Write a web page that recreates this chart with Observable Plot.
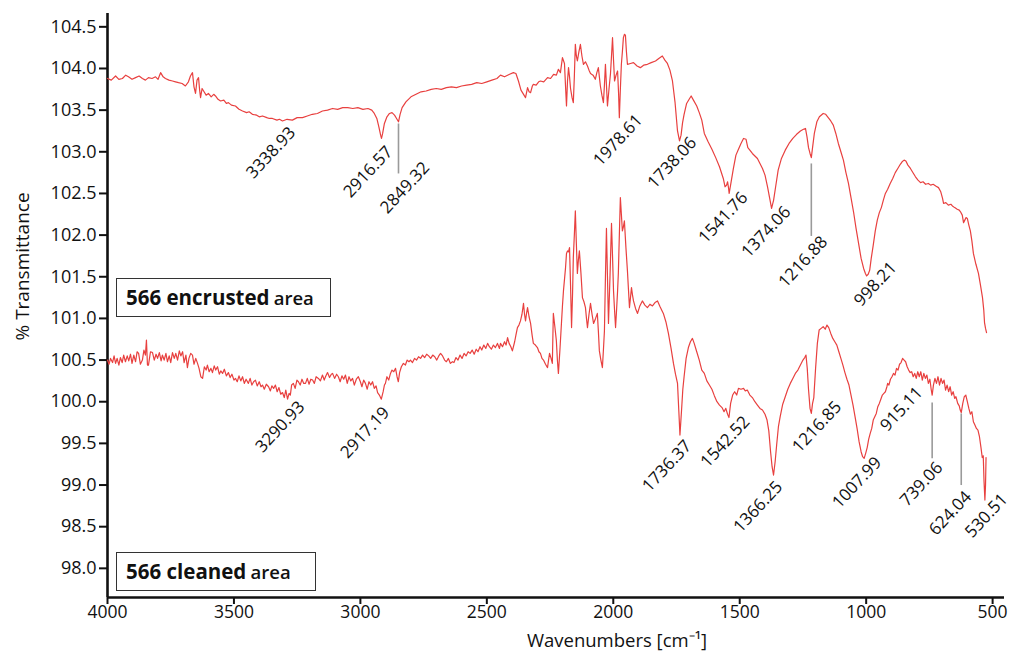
<!DOCTYPE html>
<html>
<head>
<meta charset="utf-8">
<script src="https://cdn.jsdelivr.net/npm/d3@7"></script>
<script src="https://cdn.jsdelivr.net/npm/@observablehq/plot@0.6"></script>
<style>
  html, body { margin: 0; padding: 0; background: #fff; }
  #wrap { position: relative; width: 1012px; height: 654px; font-family: "Open Sans", sans-serif; }
  .box { position: absolute; border: 1.3px solid #333; background: #fff; box-sizing: border-box;
         font-family: "Open Sans", sans-serif; color: #111; padding-left: 9px; line-height: 36px; white-space: nowrap; }
  .box b { font-weight: 700; font-size: 20.5px; }
  .box span { font-weight: 600; font-size: 18.5px; }
</style>
</head>
<body>
<div id="wrap"></div>
<script>
// ---------- data ----------
const xDomain = [4000, 453];
const yDomain = [97.65, 104.66];
const xTicks = [4000, 3500, 3000, 2500, 2000, 1500, 1000, 500];
const yTicks = [98.0, 98.5, 99.0, 99.5, 100.0, 100.5, 101.0, 101.5, 102.0, 102.5, 103.0, 103.5, 104.0, 104.5];

// 566 encrusted area (upper spectrum)
const topWave = [4000,3985,3968,3955,3941,3928,3917,3903,3889,3875,3862,3850,3838,3824,3810,3800,3790,3780,3771,3757,3743,3731,3719,3705,3692,3680,3672,3664,3658,3652,3646,3640,3636,3632,3626,3620,3610,3601,3590,3580,3573,3563,3553,3540,3530,3522,3510,3494,3480,3466,3450,3440,3427,3410,3400,3387,3370,3360,3348,3330,3320,3308,3290,3269,3250,3229,3210,3190,3170,3150,3130,3110,3090,3070,3050,3030,3010,2990,2970,2955,2945,2935,2927,2920,2916.57,2912,2905,2895,2885,2875,2865,2857,2849.32,2843,2835,2820,2800,2780,2760,2740,2720,2700,2680,2660,2640,2620,2600,2580,2560,2540,2520,2500,2480,2460,2446,2430,2410,2395,2385,2375,2365,2359,2353,2347,2339,2333,2327,2320,2316,2305,2295,2288,2275,2260,2248,2236,2225,2217,2209,2201,2193,2189,2185,2181,2177,2173,2169,2163,2158,2154,2150,2146,2142,2136,2130,2124,2118,2110,2102,2096,2090,2080,2071,2065,2059,2055,2051,2045,2039,2035,2031,2027,2023,2017,2011,2007,2003,1999,1995,1989,1983,1979,1976,1972,1968,1964,1960,1956,1952,1948,1944,1932,1920,1906,1893,1880,1865,1850,1833,1820,1806,1796,1786,1776,1766,1756,1746,1738.06,1732,1726,1720,1710,1700,1692,1683,1670,1660,1650,1640,1625,1610,1595,1580,1565,1558,1552,1548,1544,1541.76,1535,1525,1515,1505,1495,1485,1475,1468,1460,1450,1440,1430,1420,1410,1400,1390,1382,1374.06,1366,1358,1348,1335,1320,1305,1290,1275,1260,1248,1240,1234,1228,1222,1216.88,1212,1205,1195,1185,1170,1160,1150,1140,1130,1120,1110,1100,1090,1080,1070,1060,1050,1040,1030,1020,1010,1003,998.21,992,986,980,972,964,956,948,940,932,924,915,905,895,885,875,865,858,850,843,835,825,813,805,795,785,775,765,754,745,735,725,714,705,698,694,685,675,665,659,650,640,632,627,620,615,610,605,600,594,588,582,576,566,556,548,540,535,532,528,524];
const topT = [103.88,103.86,103.91,103.87,103.88,103.92,103.90,103.87,103.89,103.91,103.88,103.86,103.89,103.88,103.90,103.87,103.95,103.90,103.88,103.86,103.85,103.84,103.83,103.82,103.79,103.84,103.91,103.95,103.78,103.70,103.86,103.89,103.75,103.65,103.76,103.73,103.68,103.70,103.66,103.69,103.67,103.63,103.61,103.62,103.58,103.59,103.56,103.55,103.51,103.49,103.47,103.48,103.45,103.44,103.42,103.43,103.41,103.40,103.40,103.38,103.39,103.37,103.39,103.38,103.41,103.41,103.43,103.45,103.46,103.49,103.50,103.52,103.51,103.53,103.53,103.52,103.53,103.51,103.52,103.50,103.46,103.40,103.30,103.20,103.16,103.22,103.34,103.42,103.46,103.47,103.44,103.40,103.36,103.45,103.53,103.60,103.66,103.69,103.72,103.73,103.75,103.76,103.75,103.77,103.78,103.77,103.79,103.80,103.81,103.83,103.82,103.84,103.86,103.88,103.92,103.90,103.93,103.95,103.94,103.85,103.74,103.71,103.68,103.65,103.77,103.72,103.71,103.79,103.81,103.80,103.84,103.85,103.84,103.89,103.88,103.93,103.92,103.99,103.95,104.13,104.06,103.80,103.55,103.85,104.01,103.90,103.76,103.65,103.59,103.90,104.29,104.15,104.09,104.20,104.29,104.15,104.05,104.08,104.03,103.98,103.94,103.92,103.87,103.95,104.01,103.90,103.79,103.68,103.59,103.80,104.05,103.80,103.55,103.75,103.94,104.15,104.37,104.10,103.85,103.92,103.97,103.70,103.41,103.75,104.05,104.20,104.37,104.41,104.40,104.20,104.05,104.06,104.07,104.03,104.01,104.04,104.05,104.07,104.09,104.12,104.15,104.10,104.06,103.98,103.85,103.60,103.25,103.13,103.20,103.35,103.45,103.58,103.63,103.67,103.62,103.55,103.47,103.38,103.22,103.12,103.03,102.93,102.82,102.68,102.58,102.60,102.64,102.56,102.50,102.62,102.80,102.96,103.03,103.10,103.16,103.15,103.05,103.02,102.98,102.95,102.92,102.86,102.80,102.72,102.58,102.45,102.32,102.42,102.58,102.78,102.92,103.02,103.10,103.16,103.21,103.25,103.27,103.28,103.18,103.05,102.98,102.93,103.05,103.22,103.36,103.42,103.46,103.45,103.41,103.37,103.32,103.22,103.10,103.00,102.90,102.75,102.62,102.45,102.28,102.08,101.90,101.72,101.60,101.54,101.51,101.53,101.58,101.72,101.88,102.05,102.18,102.27,102.33,102.42,102.50,102.55,102.62,102.68,102.75,102.80,102.85,102.88,102.90,102.89,102.84,102.80,102.74,102.70,102.66,102.63,102.64,102.61,102.62,102.60,102.61,102.59,102.57,102.52,102.44,102.38,102.39,102.36,102.37,102.35,102.33,102.31,102.30,102.28,102.24,102.15,102.18,102.21,102.20,102.12,102.05,101.93,101.78,101.65,101.54,101.40,101.25,101.10,100.95,100.88,100.83];

// 566 cleaned area (lower spectrum)
const botWave = [4000,3994,3988,3980,3974,3968,3962,3955,3949,3942,3936,3929,3922,3916,3909,3903,3896,3889,3883,3877,3870,3862,3856,3850,3846,3842,3838,3830,3822,3815,3808,3802,3795,3788,3783,3776,3769,3763,3756,3750,3743,3736,3730,3723,3716,3710,3703,3697,3690,3684,3678,3671,3664,3658,3651,3644,3638,3631,3624,3617,3610,3605,3598,3591,3585,3578,3572,3565,3558,3552,3545,3538,3530,3522,3515,3508,3500,3494,3487,3480,3473,3466,3459,3452,3443,3436,3429,3422,3415,3408,3400,3393,3387,3380,3372,3363,3356,3350,3343,3336,3329,3322,3315,3308,3301,3295,3288,3282,3277,3272,3265,3258,3251,3245,3238,3231,3224,3217,3210,3203,3196,3189,3182,3175,3166,3158,3150,3143,3138,3130,3122,3115,3110,3102,3094,3087,3080,3073,3066,3059,3052,3045,3038,3031,3024,3016,3008,3000,2994,2987,2980,2973,2966,2959,2952,2945,2938,2932,2925,2917.19,2910,2905,2901,2895,2888,2881,2875,2868,2861,2855,2850,2845,2838,2830,2822,2815,2808,2802,2794,2786,2778,2770,2762,2754,2746,2738,2730,2722,2714,2706,2698,2690,2683,2675,2667,2660,2652,2644,2636,2630,2622,2614,2606,2598,2590,2582,2574,2566,2558,2550,2542,2535,2527,2520,2512,2504,2497,2490,2482,2474,2466,2458,2450,2446,2438,2430,2424,2418,2412,2405,2399,2390,2385,2379,2373,2367,2361,2355,2351,2347,2343,2339,2333,2327,2321,2316,2308,2300,2294,2288,2282,2276,2268,2260,2256,2252,2246,2241,2237,2231,2225,2221,2217,2211,2205,2201,2197,2189,2185,2181,2177,2173,2169,2165,2161,2158,2154,2150,2146,2142,2138,2134,2128,2122,2116,2110,2106,2102,2096,2090,2084,2078,2070,2063,2059,2055,2049,2043,2039,2035,2031,2027,2023,2019,2013,2007,2003,1999,1995,1991,1987,1983,1980,1976,1972,1968,1964,1960,1956,1950,1944,1940,1936,1932,1928,1924,1920,1912,1904,1895,1885,1875,1865,1855,1845,1835,1825,1815,1802,1792,1782,1772,1762,1754,1746,1741,1736.37,1730,1725,1720,1712,1703,1695,1687,1680,1670,1660,1650,1640,1630,1620,1610,1600,1590,1580,1570,1562,1555,1548,1542.52,1536,1528,1520,1512,1505,1495,1485,1478,1470,1460,1450,1440,1430,1420,1410,1400,1392,1385,1378,1372,1366.25,1360,1354,1347,1340,1330,1320,1310,1300,1290,1280,1270,1260,1250,1243,1238,1233,1228,1222,1216.85,1212,1207,1200,1193,1186,1178,1170,1162,1155,1148,1140,1132,1124,1116,1108,1100,1092,1084,1076,1068,1060,1052,1044,1036,1028,1020,1014,1007.99,1002,996,990,984,978,972,966,960,954,948,942,936,930,924,918,915.11,910,904,898,892,886,880,874,868,862,856,850,844,838,832,826,820,814,808,802,796,790,784,778,772,766,760,754,748,743,739.06,734,728,722,716,710,704,698,692,686,680,674,668,662,656,650,645,638,632,628,624.04,618,612,606,600,594,588,582,576,570,564,558,552,546,541,537,534,530.51,528,526];
const botT = [100.50,100.45,100.52,100.47,100.55,100.46,100.52,100.44,100.53,100.47,100.56,100.48,100.55,100.49,100.57,100.46,100.56,100.48,100.60,100.58,100.45,100.50,100.62,100.56,100.74,100.44,100.44,100.60,100.59,100.50,100.57,100.52,100.59,100.49,100.56,100.50,100.58,100.48,100.55,100.47,100.59,100.52,100.58,100.50,100.61,100.55,100.60,100.47,100.56,100.41,100.52,100.58,100.56,100.45,100.52,100.46,100.40,100.30,100.28,100.42,100.38,100.44,100.36,100.40,100.35,100.43,100.38,100.42,100.33,100.37,100.34,100.39,100.31,100.35,100.29,100.33,100.26,100.28,100.24,100.31,100.25,100.30,100.22,100.27,100.22,100.28,100.20,100.24,100.26,100.19,100.24,100.18,100.20,100.15,100.21,100.18,100.13,100.19,100.16,100.20,100.12,100.17,100.09,100.11,100.05,100.14,100.03,100.10,100.08,100.20,100.22,100.16,100.26,100.24,100.20,100.27,100.22,100.22,100.28,100.21,100.27,100.26,100.22,100.30,100.28,100.25,100.32,100.26,100.30,100.35,100.29,100.33,100.34,100.28,100.33,100.30,100.24,100.31,100.27,100.32,100.22,100.30,100.25,100.28,100.20,100.27,100.30,100.24,100.18,100.26,100.22,100.15,100.24,100.20,100.24,100.16,100.19,100.11,100.08,100.03,100.12,100.20,100.22,100.30,100.26,100.34,100.38,100.36,100.40,100.30,100.24,100.35,100.42,100.46,100.44,100.50,100.48,100.50,100.47,100.52,100.50,100.54,100.52,100.56,100.53,100.57,100.55,100.52,100.56,100.54,100.50,100.55,100.58,100.55,100.50,100.48,100.52,100.46,100.48,100.47,100.53,100.50,100.56,100.52,100.58,100.55,100.60,100.58,100.62,100.57,100.63,100.60,100.66,100.62,100.68,100.64,100.70,100.66,100.63,100.68,100.65,100.70,100.64,100.70,100.66,100.72,100.68,100.77,100.70,100.66,100.61,100.72,100.80,100.89,100.92,100.97,101.05,101.18,101.05,100.97,101.06,101.13,101.02,100.94,100.80,100.70,100.68,100.65,100.60,100.58,100.52,100.50,100.45,100.41,100.50,100.58,100.52,100.46,101.06,100.90,100.73,100.50,100.34,100.62,100.94,101.15,101.33,101.60,101.78,101.81,101.80,101.85,101.40,100.89,101.30,101.73,102.00,102.29,101.90,101.54,101.70,101.81,101.55,101.25,101.20,101.13,101.00,100.89,101.05,101.18,101.05,100.94,101.00,101.06,100.85,100.61,100.50,100.41,100.62,100.85,101.50,102.08,101.50,100.94,101.50,102.14,101.75,101.33,101.10,100.89,101.10,101.33,101.54,102.00,102.45,102.25,102.05,102.10,102.17,101.85,101.57,101.35,101.13,101.25,101.37,101.28,101.21,101.12,101.06,101.15,101.21,101.16,101.13,101.17,101.15,101.19,101.21,101.14,101.06,100.96,100.82,100.65,100.46,100.33,100.22,99.90,99.60,99.90,100.15,100.30,100.52,100.65,100.72,100.76,100.70,100.60,100.50,100.38,100.34,100.25,100.20,100.15,100.07,100.00,99.96,99.93,99.88,99.92,99.85,99.81,99.98,100.08,100.12,100.08,100.16,100.15,100.16,100.13,100.14,100.08,100.05,100.00,99.96,99.92,99.90,99.85,99.78,99.65,99.40,99.22,99.12,99.28,99.48,99.70,99.82,99.97,100.06,100.15,100.22,100.28,100.34,100.38,100.44,100.50,100.53,100.56,100.40,100.15,99.92,99.86,99.98,100.05,100.40,100.70,100.86,100.88,100.90,100.87,100.92,100.89,100.82,100.76,100.72,100.68,100.60,100.52,100.44,100.35,100.27,100.20,100.08,99.96,99.82,99.68,99.52,99.40,99.34,99.32,99.38,99.45,99.55,99.62,99.68,99.78,99.82,99.86,99.94,99.98,100.03,100.08,100.10,100.12,100.18,100.22,100.20,100.27,100.30,100.34,100.32,100.40,100.38,100.45,100.47,100.52,100.50,100.48,100.42,100.38,100.35,100.36,100.30,100.34,100.28,100.36,100.30,100.36,100.26,100.34,100.28,100.32,100.22,100.27,100.15,100.08,100.20,100.28,100.22,100.30,100.20,100.28,100.22,100.26,100.14,100.20,100.12,100.18,100.08,100.12,100.04,100.06,99.98,99.95,99.90,99.87,99.98,100.06,100.08,100.00,99.92,99.85,99.88,99.76,99.72,99.68,99.66,99.58,99.45,99.33,99.35,99.05,98.82,99.00,99.33];

// peak annotations (text end positions in data units)
const topLabels = ["3338.93", "2916.57", "2849.32", "1978.61", "1738.06", "1541.76", "1374.06", "1216.88", "998.21"];
const topLabelX = [3253, 2869, 2723, 1881, 1667, 1465, 1295, 1149, 876];
const topLabelY = [103.22, 102.99, 102.80, 103.37, 103.10, 102.44, 102.27, 101.91, 101.60];
const botLabels = ["3290.93", "2917.19", "1736.37", "1542.52", "1366.25", "1216.85", "1007.99", "915.11", "739.06", "624.04", "530.51"];
const botLabelX = [3217, 2881, 1687, 1457, 1327, 1094, 936, 773, 694, 580, 437];
const botLabelY = [99.93, 99.86, 99.46, 99.75, 98.97, 99.93, 99.26, 100.10, 99.20, 98.85, 98.82];

// leader lines
const leadWave = [2849.32, 1216.88, 739.06, 624.04];
const leadTop = [103.34, 102.86, 99.99, 99.86];
const leadBottom = [102.74, 101.99, 99.32, 99.00];

const seriesNames = ["566 encrusted", "566 cleaned"];

// ---------- build ----------
const topData = topWave.map((w, i) => ({w, t: topT[i]}));
const botData = botWave.map((w, i) => ({w, t: botT[i]}));
const labelData = topLabels.map((s, i) => ({s, x: topLabelX[i], y: topLabelY[i]}))
  .concat(botLabels.map((s, i) => ({s, x: botLabelX[i], y: botLabelY[i]})));
const leadData = leadWave.map((w, i) => ({w, y1: leadTop[i], y2: leadBottom[i]}));

const RED = "#e8403f";
const FONT = "Open Sans";

const chart = Plot.plot({
  width: 1012,
  height: 654,
  marginLeft: 107,
  marginRight: 8,
  marginTop: 13,
  marginBottom: 57,
  style: {fontFamily: FONT, fontSize: "18px", color: "#111", background: "#fff", overflow: "visible"},
  x: {domain: xDomain, label: null},
  y: {domain: yDomain, label: null},
  marks: [
    Plot.axisY({ticks: yTicks, tickFormat: ".1f", tickSize: 8, tickPadding: 3, strokeWidth: 2, fontSize: 18, label: null}),
    Plot.axisX({ticks: xTicks, tickFormat: "d", tickSize: 7, tickPadding: 1, strokeWidth: 2, fontSize: 17.5, label: null}),
    Plot.ruleX([xDomain[0]], {strokeWidth: 2.6, stroke: "#111"}),
    Plot.ruleY([yDomain[0]], {strokeWidth: 2.6, stroke: "#111"}),
    Plot.link(leadData, {x1: "w", x2: "w", y1: "y1", y2: "y2", stroke: "#9a9a9a", strokeWidth: 1.6}),
    Plot.line(topData, {x: "w", y: "t", stroke: RED, strokeWidth: 1.2}),
    Plot.line(botData, {x: "w", y: "t", stroke: RED, strokeWidth: 1.2}),
    Plot.text(labelData, {x: "x", y: "y", text: "s", rotate: -47, textAnchor: "end", lineAnchor: "bottom", fontSize: 17, fill: "#111"}),
    Plot.text(["% Transmittance"], {frameAnchor: "left", rotate: -90, dx: -85, dy: 35, fontSize: 19, fill: "#111"}),
    Plot.text(["Wavenumbers [cm⁻¹]"], {frameAnchor: "bottom", dx: 61, dy: 49, lineAnchor: "bottom", fontSize: 18.5, fill: "#111"})
  ]
});

const wrap = document.getElementById("wrap");
wrap.appendChild(chart);

function addBox(name, left, top, width) {
  const d = document.createElement("div");
  d.className = "box";
  d.style.left = left + "px";
  d.style.top = top + "px";
  d.style.width = width + "px";
  d.style.height = "39px";
  d.innerHTML = "<b>" + name + "</b> <span>area</span>";
  wrap.appendChild(d);
}
addBox(seriesNames[0], 116, 278, 215);
addBox(seriesNames[1], 116, 552, 200);
</script>
</body>
</html>
